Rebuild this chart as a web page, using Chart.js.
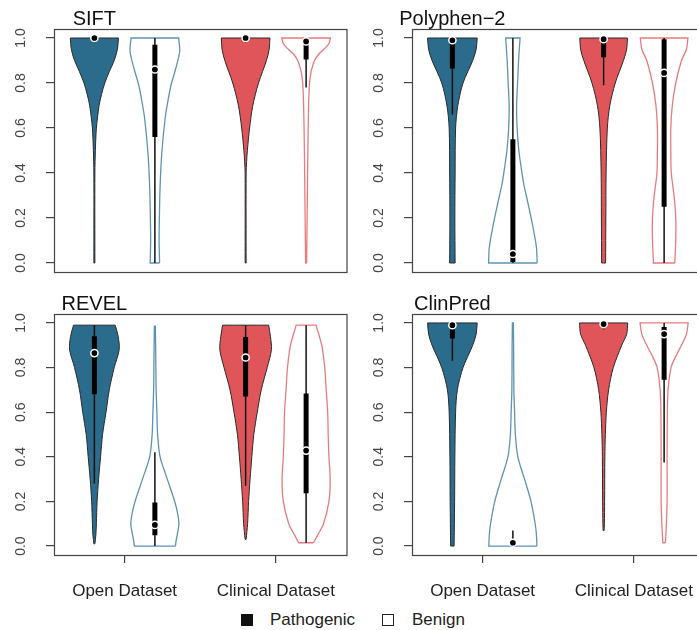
<!DOCTYPE html>
<html>
<head>
<meta charset="utf-8">
<script src="https://cdn.jsdelivr.net/npm/chart.js@4.4.1/dist/chart.umd.min.js"></script>
<style>
  html, body { margin: 0; padding: 0; background: #fff; width: 697px; height: 630px; overflow: hidden; }
  canvas { position: absolute; }
  .lg { position: absolute; font: 17px "Liberation Sans", Arial, sans-serif; color: #222; line-height: 22px; top: 609px; }
  .sq { position: absolute; top: 614px; width: 12px; height: 12px; box-sizing: border-box; }
</style>
</head>
<body>
<canvas id="c0" width="352" height="290" style="left:0;top:0"></canvas>
<canvas id="c1" width="352" height="290" style="left:358px;top:0"></canvas>
<canvas id="c2" width="352" height="320" style="left:0;top:285px"></canvas>
<canvas id="c3" width="352" height="320" style="left:358px;top:285px"></canvas>

<div class="sq" style="left:241px;background:#111"></div>
<div class="lg" style="left:270px">Pathogenic</div>
<div class="sq" style="left:382px;border:1.5px solid #222"></div>
<div class="lg" style="left:412px">Benign</div>

<script>
// panel names, categories and axis ticks
const panelNames = ['SIFT', 'Polyphen\u22122', 'REVEL', 'ClinPred'];
const categories = ['Open Dataset', 'Clinical Dataset'];
const classes = ['Pathogenic', 'Benign'];
const yTicks = [0, 0.2, 0.4, 0.6, 0.8, 1.0];
const yTickLabels = ['0.0', '0.2', '0.4', '0.6', '0.8', '1.0'];

// violin outlines: [score, relative density]
// order in each panel: open pathogenic, open benign, clinical pathogenic, clinical benign
const siftViolins = [
  [[0, 0.02], [0.4, 0.02], [0.5, 0.04], [0.6, 0.08], [0.65, 0.13], [0.7, 0.19], [0.75, 0.29], [0.8, 0.42], [0.85, 0.6], [0.9, 0.8], [0.95, 0.93], [1.0, 0.97]],
  [[0, 0.19], [0.1, 0.17], [0.19, 0.18], [0.34, 0.21], [0.49, 0.28], [0.64, 0.41], [0.71, 0.51], [0.79, 0.65], [0.86, 0.83], [0.94, 1.0], [1.0, 0.96]],
  [[0, 0.02], [0.4, 0.02], [0.45, 0.04], [0.5, 0.07], [0.6, 0.16], [0.7, 0.29], [0.8, 0.52], [0.9, 0.84], [0.95, 0.95], [1.0, 0.98]],
  [[0, 0.02], [0.1, 0.03], [0.3, 0.05], [0.5, 0.07], [0.7, 0.1], [0.8, 0.14], [0.85, 0.2], [0.9, 0.34], [0.93, 0.52], [0.95, 0.72], [0.975, 0.92], [1.0, 0.98]]
];
const polyphenViolins = [
  [[0, 0.11], [0.2, 0.1], [0.4, 0.11], [0.6, 0.13], [0.7, 0.22], [0.8, 0.43], [0.9, 0.82], [0.95, 0.96], [1.0, 1.0]],
  [[0, 0.98], [0.07, 0.95], [0.16, 0.81], [0.27, 0.6], [0.35, 0.44], [0.42, 0.34], [0.5, 0.24], [0.6, 0.17], [0.7, 0.15], [0.8, 0.19], [0.9, 0.23], [1.0, 0.29]],
  [[0, 0.08], [0.2, 0.09], [0.4, 0.1], [0.6, 0.15], [0.7, 0.25], [0.8, 0.47], [0.9, 0.8], [0.95, 0.93], [1.0, 0.96]],
  [[0, 0.43], [0.1, 0.47], [0.2, 0.47], [0.3, 0.4], [0.4, 0.29], [0.5, 0.27], [0.6, 0.27], [0.7, 0.33], [0.8, 0.47], [0.9, 0.7], [0.95, 0.9], [1.0, 0.96]]
];
const revelViolins = [
  [[0.01, 0.02], [0.05, 0.06], [0.1, 0.08], [0.2, 0.11], [0.3, 0.17], [0.4, 0.25], [0.5, 0.33], [0.6, 0.47], [0.7, 0.6], [0.8, 0.8], [0.88, 1.0], [0.94, 0.96], [0.99, 0.84]],
  [[0, 0.83], [0.02, 0.85], [0.05, 0.9], [0.1, 0.97], [0.15, 0.91], [0.2, 0.8], [0.3, 0.5], [0.4, 0.21], [0.5, 0.11], [0.6, 0.08], [0.7, 0.05], [0.8, 0.04], [0.9, 0.03], [0.985, 0.02]],
  [[0.03, 0.02], [0.1, 0.08], [0.2, 0.12], [0.3, 0.18], [0.4, 0.25], [0.5, 0.33], [0.6, 0.47], [0.7, 0.63], [0.8, 0.87], [0.88, 1.04], [0.94, 1.0], [0.99, 0.93]],
  [[0.015, 0.3], [0.05, 0.47], [0.1, 0.7], [0.2, 0.92], [0.3, 0.97], [0.4, 0.92], [0.5, 0.89], [0.6, 0.87], [0.7, 0.81], [0.8, 0.75], [0.9, 0.63], [0.99, 0.4]]
];
const clinpredViolins = [
  [[0, 0.07], [0.2, 0.09], [0.4, 0.1], [0.6, 0.13], [0.7, 0.2], [0.8, 0.43], [0.9, 0.82], [0.95, 0.96], [1.0, 1.0]],
  [[0, 0.97], [0.05, 0.95], [0.1, 0.9], [0.2, 0.73], [0.3, 0.47], [0.4, 0.2], [0.5, 0.1], [0.6, 0.07], [0.7, 0.04], [0.9, 0.03], [1.0, 0.02]],
  [[0.07, 0.02], [0.1, 0.03], [0.2, 0.04], [0.4, 0.05], [0.5, 0.07], [0.6, 0.11], [0.7, 0.2], [0.8, 0.39], [0.9, 0.73], [0.95, 0.93], [1.0, 0.97]],
  [[0.015, 0.05], [0.03, 0.06], [0.1, 0.09], [0.2, 0.12], [0.4, 0.12], [0.6, 0.13], [0.7, 0.16], [0.8, 0.28], [0.85, 0.47], [0.9, 0.7], [0.95, 0.9], [1.0, 0.97]]
];

// box stats: [lower whisker, Q1, median, Q3, upper whisker]
const siftBoxes = [[0.98, 0.99, 1.0, 1.0, 1.0], [0, 0.56, 0.86, 0.97, 1.0], [0.98, 0.99, 1.0, 1.0, 1.0], [0.78, 0.905, 0.985, 1.0, 1.0]];
const polyphenBoxes = [[0.66, 0.865, 0.99, 1.0, 1.0], [0, 0.005, 0.04, 0.55, 1.0], [0.79, 0.915, 0.995, 1.0, 1.0], [0, 0.25, 0.845, 0.995, 1.0]];
const revelBoxes = [[0.28, 0.68, 0.865, 0.94, 0.99], [0, 0.048, 0.095, 0.195, 0.42], [0.27, 0.67, 0.845, 0.937, 0.99], [0.015, 0.237, 0.428, 0.684, 0.99]];
const clinpredBoxes = [[0.83, 0.93, 0.99, 1.0, 1.0], [0, 0.005, 0.015, 0.02, 0.07], [0.97, 0.98, 0.995, 1.0, 1.0], [0.375, 0.745, 0.95, 0.982, 1.0]];

const allViolins = [siftViolins, polyphenViolins, revelViolins, clinpredViolins];
const allBoxes = [siftBoxes, polyphenBoxes, revelBoxes, clinpredBoxes];

const violinOffset = 0.2;
const violinHalfWidth = 0.164;
const fillColors = ['#2b6b8c', '#e0555a'];
const benignLines = ['#5d93b1', '#e97b7e'];
const FONT = '"Liberation Sans", Arial, sans-serif';

// outline: right side going up, left side coming down; ends doubled so the cut edges stay flat
function violinPoints(profile, center) {
    const right = profile.map(([v, d]) => ({ x: center + d * violinHalfWidth, y: v }));
    const left = profile.slice().reverse().map(([v, d]) => ({ x: center - d * violinHalfWidth, y: v }));
    const pts = [right[0]].concat(right, [right[right.length - 1]], [left[0]], left, [left[left.length - 1]], [right[0]]);
    return pts;
}

function panelPlugin(idx, showX) {
    return {
        id: 'panelDecor' + idx,
        afterDraw(chart) {
            const { ctx, chartArea: a, scales: { x, y } } = chart;
            ctx.save();
            ctx.strokeStyle = '#444';
            ctx.lineWidth = 1.2;
            ctx.strokeRect(a.left + 0.5, a.top + 0.5, a.right - a.left, a.bottom - a.top);

            ctx.fillStyle = '#111';
            ctx.font = '20px ' + FONT;
            ctx.textAlign = 'center';
            ctx.textBaseline = 'alphabetic';
            ctx.fillText(panelNames[idx], x.getPixelForValue(1 - violinOffset), a.top - 4.5);

            ctx.fillStyle = '#444';
            ctx.font = '14px ' + FONT;
            ctx.textBaseline = 'middle';
            yTicks.forEach((v, i) => {
                ctx.save();
                ctx.translate(a.left - 33, y.getPixelForValue(v));
                ctx.rotate(-Math.PI / 2);
                ctx.fillText(yTickLabels[i], 0, 0);
                ctx.restore();
            });

            if (showX) {
                ctx.fillStyle = '#222';
                ctx.font = '17px ' + FONT;
                ctx.textBaseline = 'alphabetic';
                categories.forEach((c, i) => {
                    ctx.fillText(c, x.getPixelForValue(i + 1), a.bottom + 41);
                });
            }
            ctx.restore();
        }
    };
}

function makeChart(id, idx, showX) {
    const datasets = [];
    allViolins[idx].forEach((profile, i) => {
        const cat = Math.floor(i / 2);
        const benign = i % 2 === 1;
        const center = cat + 1 + (benign ? violinOffset : -violinOffset);
        const [lo, q1, med, q3, hi] = allBoxes[idx][i];

        datasets.push({
            data: violinPoints(profile, center),
            showLine: true,
            tension: 0.3,
            fill: 'shape',
            backgroundColor: benign ? 'rgba(255,255,255,0)' : fillColors[cat],
            borderColor: benign ? benignLines[cat] : '#2a2a2a',
            borderWidth: benign ? 1.3 : 1,
            pointRadius: 0,
            order: 3
        });
        datasets.push({
            data: [{ x: center, y: lo }, { x: center, y: hi }],
            showLine: true,
            borderColor: '#111',
            borderWidth: 1.5,
            pointRadius: 0,
            order: 2
        });
        datasets.push({
            data: [{ x: center, y: q1 }, { x: center, y: q3 }],
            showLine: true,
            borderColor: '#000',
            borderWidth: 5,
            borderCapStyle: 'butt',
            pointRadius: 0,
            order: 1
        });
        datasets.push({
            data: [{ x: center, y: med }],
            showLine: false,
            pointRadius: 3.6,
            pointBackgroundColor: '#000',
            pointBorderColor: '#fff',
            pointBorderWidth: 1.5,
            order: 0
        });
    });

    return new Chart(document.getElementById(id), {
        type: 'scatter',
        data: { datasets },
        options: {
            responsive: false,
            animation: false,
            events: [],
            layout: { padding: { top: 29, right: 4, bottom: showX ? 0 : 18, left: 0 } },
            plugins: { legend: { display: false }, tooltip: { enabled: false } },
            scales: {
                x: {
                    type: 'linear',
                    min: 0.533,
                    max: 2.467,
                    display: showX,
                    afterBuildTicks: s => { s.ticks = categories.map((c, i) => ({ value: i + 1 })); },
                    afterFit: s => { s.height = showX ? 50 : 0; },
                    ticks: { display: false },
                    border: { display: false },
                    grid: { drawOnChartArea: false, drawTicks: true, tickLength: 8, color: '#444', lineWidth: 1.2 }
                },
                y: {
                    type: 'linear',
                    min: -0.04,
                    max: 1.04,
                    afterBuildTicks: s => { s.ticks = yTicks.map(v => ({ value: v })); },
                    afterFit: s => { s.width = 54; },
                    ticks: { display: false },
                    border: { display: false },
                    grid: { drawOnChartArea: false, drawTicks: true, tickLength: 8, color: '#444', lineWidth: 1.2 }
                }
            }
        },
        plugins: [panelPlugin(idx, showX)]
    });
}

makeChart('c0', 0, false);
makeChart('c1', 1, false);
makeChart('c2', 2, true);
makeChart('c3', 3, true);
</script>
</body>
</html>
